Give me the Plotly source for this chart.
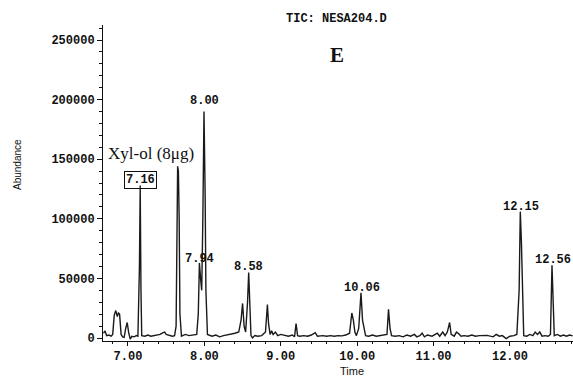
import plotly.graph_objects as go

# Chromatogram trace (time in min, abundance)
time = [6.68, 6.70, 6.72, 6.75, 6.78, 6.80, 6.82, 6.84, 6.86, 6.875, 6.89, 6.91, 6.93, 6.95,
        6.97, 6.99, 7.01, 7.03, 7.05, 7.08, 7.11, 7.13, 7.15, 7.16, 7.17, 7.18, 7.22, 7.26,
        7.30, 7.34, 7.38, 7.42, 7.46, 7.48, 7.50, 7.54, 7.58, 7.61, 7.63, 7.65, 7.66, 7.67,
        7.68, 7.70, 7.75, 7.80, 7.85, 7.90, 7.92, 7.935, 7.95, 7.965, 7.98, 7.995, 8.01, 8.02,
        8.04, 8.10, 8.15, 8.20, 8.25, 8.30, 8.35, 8.40, 8.45, 8.48, 8.50, 8.52, 8.54, 8.565,
        8.58, 8.595, 8.61, 8.63, 8.66, 8.70, 8.75, 8.80, 8.81, 8.825, 8.84, 8.86, 8.88, 8.90,
        8.93, 8.96, 9.00, 9.05, 9.10, 9.15, 9.18, 9.20, 9.22, 9.25, 9.30, 9.35, 9.40, 9.45,
        9.48, 9.55, 9.60, 9.65, 9.70, 9.75, 9.80, 9.85, 9.90, 9.93, 9.95, 9.97, 9.99, 10.02,
        10.05, 10.07, 10.09, 10.11, 10.15, 10.20, 10.25, 10.30, 10.35, 10.39, 10.41, 10.43,
        10.45, 10.50, 10.55, 10.60, 10.65, 10.70, 10.75, 10.78, 10.82, 10.85, 10.88, 10.92,
        10.98, 11.05, 11.08, 11.12, 11.15, 11.18, 11.21, 11.23, 11.27, 11.30, 11.33, 11.36,
        11.40, 11.45, 11.50, 11.55, 11.60, 11.65, 11.70, 11.78, 11.82, 11.86, 11.90, 11.95,
        12.00, 12.05, 12.09, 12.12, 12.135, 12.15, 12.165, 12.18, 12.22, 12.26, 12.30, 12.33,
        12.36, 12.39, 12.42, 12.46, 12.50, 12.53, 12.55, 12.565, 12.58, 12.62, 12.66, 12.70,
        12.74, 12.78, 12.82]
abundance = [4000, 6000, 2000, 2500, 1500, 3000, 19000, 23000, 18000, 21000, 20000, 3000, 1000, 500,
             8000, 13000, 4000, -1000, 1500, 1000, 2000, 1500, 60000, 128000, 40000, 2000, 1500, 2500,
             1500, 2000, 2500, 3000, 4500, 5000, 3000, 2000, 1500, 2000, 10000, 144000, 140000, 100000,
             20000, 1500, 3000, 2000, 2500, 3000, 20000, 63000, 50000, 40000, 100000, 190000, 120000, 40000,
             3000, 1500, 2500, 1000, 2000, 2500, 3500, 4000, 5000, 15000, 29000, 10000, 5000, 30000,
             55000, 20000, 2000, 0, 2000, 1500, 2000, 5000, 20000, 28000, 12000, 3000, 6000, 3000,
             5000, 2000, 3000, 2000, 1500, 2500, 1000, 12000, 2000, 1500, 2000, 1500, 2500, 4500,
             1500, 2000, 1500, 2000, 1500, 2000, 1800, 2500, 4000, 21000, 15000, 5000, 2000, 8000,
             38000, 15000, 8000, 2000, 1500, 2500, 1500, 2000, 2500, 3000, 24000, 8000,
             2000, 1500, 2000, 1000, 2500, 1500, 3000, 1000, 2000, 4000, 1000, 2500,
             1500, 4000, 1500, 5000, 2000, 5000, 13000, 3000, 1500, 5000, 3500, 1500,
             2000, 1500, 2500, 1500, 2000, 1800, 2200, 1000, 3000, 1500, 2000, -500,
             1500, 2000, 3000, 40000, 106000, 80000, 30000, 2000, 1500, 3000, 2000, 5000,
             3000, 5000, 1500, 2000, 1500, 3000, 61000, 20000, 2000, 3000, 1500, 2500,
             1500, 2500, 1800]

# Peak labels
peak_labels = ["8.00", "7.94", "8.58", "10.06", "12.15", "12.56"]
peak_label_x = [7.995, 7.935, 8.58, 10.06, 12.14, 12.56]
peak_label_y = [191000, 59000, 52000, 34000, 102000, 58000]

x_ticks = [7.0, 8.0, 9.0, 10.0, 11.0, 12.0]
y_ticks = [0, 50000, 100000, 150000, 200000, 250000]

mono = "Liberation Mono"
serif = "Liberation Serif"

fig = go.Figure()
fig.add_trace(go.Scatter(x=time, y=abundance, mode="lines",
                         line=dict(color="#1a1a1a", width=1.4), showlegend=False,
                         hoverinfo="skip"))

annotations = []
for t, x, y in zip(peak_labels, peak_label_x, peak_label_y):
    annotations.append(dict(x=x, y=y, xref="x", yref="y", text=t, showarrow=False,
                            yanchor="bottom",
                            font=dict(family=mono, size=12, color="#111", weight="bold")))

# boxed 7.16 label and compound name
annotations.append(dict(x=7.16, y=125000, xref="x", yref="y", text="7.16", showarrow=False,
                        yanchor="bottom", bordercolor="#111", borderwidth=1, borderpad=1,
                        font=dict(family=mono, size=12, color="#111", weight="bold")))
annotations.append(dict(x=7.16, y=145000, xref="x", yref="y", text="Xyl-ol (8μg)", showarrow=False,
                        yanchor="bottom", xshift=11,
                        font=dict(family=serif, size=17, color="#111")))

# page-pixel placed texts
pl, pr, pt, pb = 103, 573, 25, 341


def px2paper(px, py):
    return (px - pl) / (pr - pl), 1 - (py - pt) / (pb - pt)


for text, px, py, font, angle in [
    ("TIC: NESA204.D", 336, 19, dict(family=mono, size=12, color="#111", weight="bold"), 0),
    ("E", 337, 55, dict(family=serif, size=21, color="#111", weight="bold"), 0),
    ("Abundance", 18, 165, dict(family="Liberation Sans", size=10, color="#111"), -90),
    ("Time", 352, 371, dict(family="Liberation Sans", size=11, color="#111"), 0),
]:
    ax, ay = px2paper(px, py)
    annotations.append(dict(x=ax, y=ay, xref="paper", yref="paper", text=text, showarrow=False,
                            textangle=angle, xanchor="center", yanchor="middle", font=font))

fig.update_layout(
    width=573, height=379,
    margin=dict(l=103, r=0, t=25, b=38),
    paper_bgcolor="white", plot_bgcolor="white",
    annotations=annotations,
    xaxis=dict(range=[6.673, 12.825], tickvals=x_ticks, tickformat=".2f",
               showline=True, linecolor="#111", linewidth=1, ticks="outside", ticklen=4,
               tickcolor="#111", showgrid=False, zeroline=False,
               tickfont=dict(family=mono, size=12, color="#111", weight="bold"),
               minor=dict(dtick=0.2, ticks="outside", ticklen=2, tickcolor="#111")),
    yaxis=dict(range=[-2517, 262584], tickvals=y_ticks, tickformat="d",
               showline=True, linecolor="#111", linewidth=1, ticks="outside", ticklen=5,
               tickcolor="#111", showgrid=False, zeroline=False,
               tickfont=dict(family=mono, size=12, color="#111", weight="bold"),
               minor=dict(dtick=10000, ticks="outside", ticklen=3, tickcolor="#111")),
)

fig.write_html("out.html")
